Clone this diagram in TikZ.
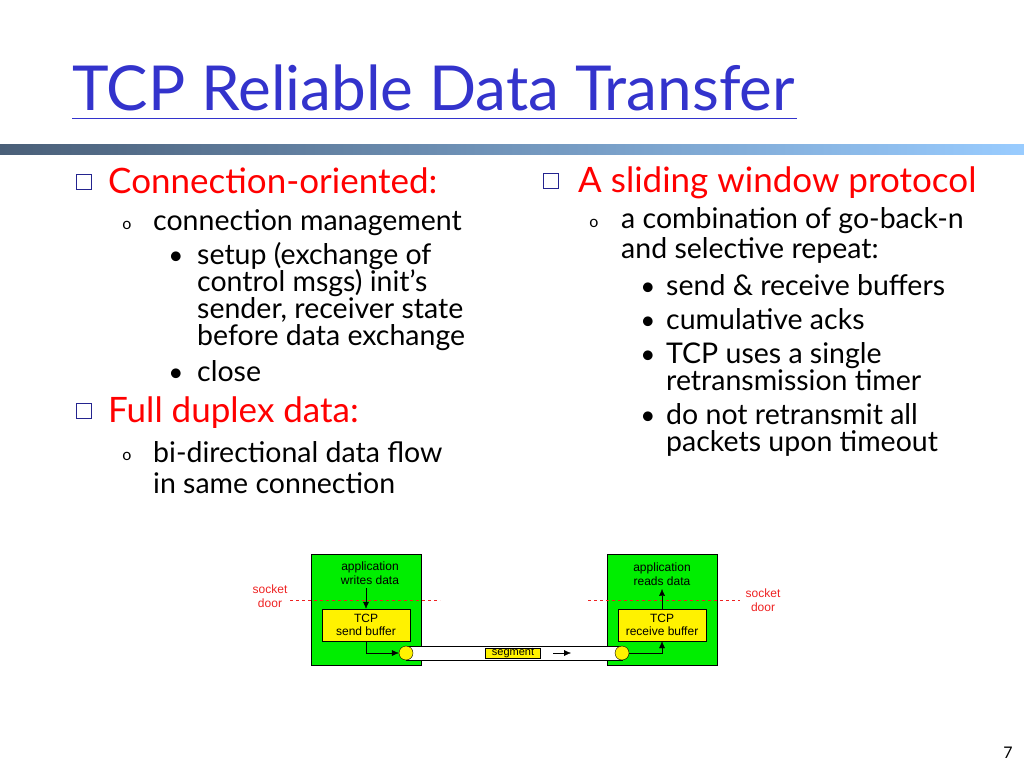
\documentclass[tikz,border=0pt]{standalone}
\usepackage{fontspec}
\setmainfont{Lato}
\setsansfont{Liberation Sans}
\usetikzlibrary{positioning,arrows.meta}
\definecolor{titleblue}{HTML}{3333CC}
\definecolor{boxgreen}{HTML}{00EE00}
\definecolor{doorred}{HTML}{EE2222}
\tikzset{
  host/.style={draw=black,fill=boxgreen,minimum width=110pt,minimum height=111pt,inner sep=0pt},
  buf/.style={draw=black,fill=yellow,minimum width=88pt,minimum height=32pt,inner sep=0pt,align=center,font=\sffamily\fontsize{12}{13}\selectfont},
  small/.style={align=center,font=\sffamily\fontsize{12}{14}\selectfont},
  head/.style={anchor=base west,text=red,inner sep=0pt,font=\fontsize{35}{40}\selectfont},
  item/.style={anchor=base west,inner sep=0pt,font=\fontsize{28.5}{31}\selectfont},
  dot/.style={anchor=base,font=\fontsize{26}{26}\selectfont},
  chk/.style={draw=titleblue!70!black,line width=1.6pt,minimum size=15pt,inner sep=0pt},
  pipe/.style={thin,-{Latex[length=7pt,width=6pt]}}
}
\begin{document}
\begin{tikzpicture}[x=1pt,y=-1pt]
\useasboundingbox (0,0) rectangle (1024,768);
% title and bar
\node[anchor=base west,text=titleblue,font=\fontsize{62}{66}\selectfont,inner sep=0pt] (title) at (72,110) {TCP Reliable Data Transfer};
\draw[titleblue,thick] (72,118) -- (797,118);
\shade[left color={rgb,255:red,74;green,95;blue,120},right color={rgb,255:red,153;green,204;blue,255}] (0,144) rectangle (1024,154);
% left column
\node[chk] (c1) at (84,182) {};
\node[head] (h1) at (108,193) {Connection-oriented:};
\node[anchor=base,font=\fontsize{16}{16}\selectfont] (o1) at (127,229) {o};
\node[item] (t1) at (153,230) {connection management};
\node[dot] (d1) at (176,264) {\textbullet};
\node[item] (t2a) at (197,264) {setup (exchange of};
\node[item] (t2b) at (197,291) {control msgs) init\textquoteright s};
\node[item] (t2c) at (197,318) {sender, receiver state};
\node[item] (t2d) at (197,345) {before data exchange};
\node[dot] (d2) at (176,381) {\textbullet};
\node[item] (t3) at (197,381) {close};
\node[chk] (c2) at (84,411) {};
\node[head] (h2) at (108,422) {Full duplex data:};
\node[anchor=base,font=\fontsize{16}{16}\selectfont] (o2) at (127,460) {o};
\node[item] (t4a) at (153,462) {bi-directional data flow};
\node[item] (t4b) at (153,493) {in same connection};
% right column
\node[chk] (c3) at (551,181) {};
\node[head] (h3) at (578,192) {A sliding window protocol};
\node[anchor=base,font=\fontsize{16}{16}\selectfont] (o3) at (594,227) {o};
\node[item] (t5a) at (621,228) {a combination of go-back-n};
\node[item] (t5b) at (621,258) {and selective repeat:};
\node[dot] (d3) at (648,295) {\textbullet};
\node[item] (t6) at (666,295) {send \& receive buffers};
\node[dot] (d4) at (648,329) {\textbullet};
\node[item] (t7) at (666,329) {cumulative acks};
\node[dot] (d5) at (648,363) {\textbullet};
\node[item] (t8a) at (666,363) {TCP uses a single};
\node[item] (t8b) at (666,390) {retransmission timer};
\node[dot] (d6) at (648,424) {\textbullet};
\node[item] (t9a) at (666,424) {do not retransmit all};
\node[item] (t9b) at (666,451) {packets upon timeout};
% diagram
\node[host] (snd) at (366,609.5) {};
\node[host] (rcv) at (662,609.5) {};
\draw[doorred,dashed] (290,600) -- (440,600);
\draw[doorred,dashed] (588,600) -- (740,600);
\node[small,text=doorred] (sdl) at (270,596) {socket\\door};
\node[small,text=doorred] (sdr) at (763,600) {socket\\door};
\node[small] (wr) at (370,573) {application\\writes data};
\node[small] (rd) at (662,574) {application\\reads data};
\node[buf] (sb) at (366,625) {TCP\\send buffer};
\node[buf] (rb) at (662,625) {TCP\\receive buffer};
\coordinate (p1) at (406,646);
\coordinate (p2) at (622,646);
\coordinate (p3) at (406,660);
\coordinate (p4) at (622,660);
\draw[thin,fill=white] (p1) -- (p2) -- (p4) -- (p3) -- cycle;
\node[draw=black,fill=yellow,circle,minimum size=14pt,inner sep=0pt] (cs) at (406,653) {};
\node[draw=black,fill=yellow,circle,minimum size=14pt,inner sep=0pt] (cr) at (622,653) {};
\node[draw=black,fill=yellow,inner sep=0.5pt,minimum width=55pt,minimum height=10pt,font=\sffamily\fontsize{11}{11}\selectfont] (seg) at (513,653) {segment};
\coordinate (a1) at (553,653);
\coordinate (a2) at (571,653);
\draw[pipe] (a1) -- (a2);
\draw[pipe] (wr.south -| sb.north) -- (sb.north);
\draw[pipe] (rb.north) -- (rd.south -| rb.north);
\draw[pipe] (sb.south) |- (cs.west);
\draw[pipe] (cr.east) -| (rb.south);
\node[font=\fontsize{16}{16}\selectfont] (pg) at (1008,753) {7};
\end{tikzpicture}
\end{document}
